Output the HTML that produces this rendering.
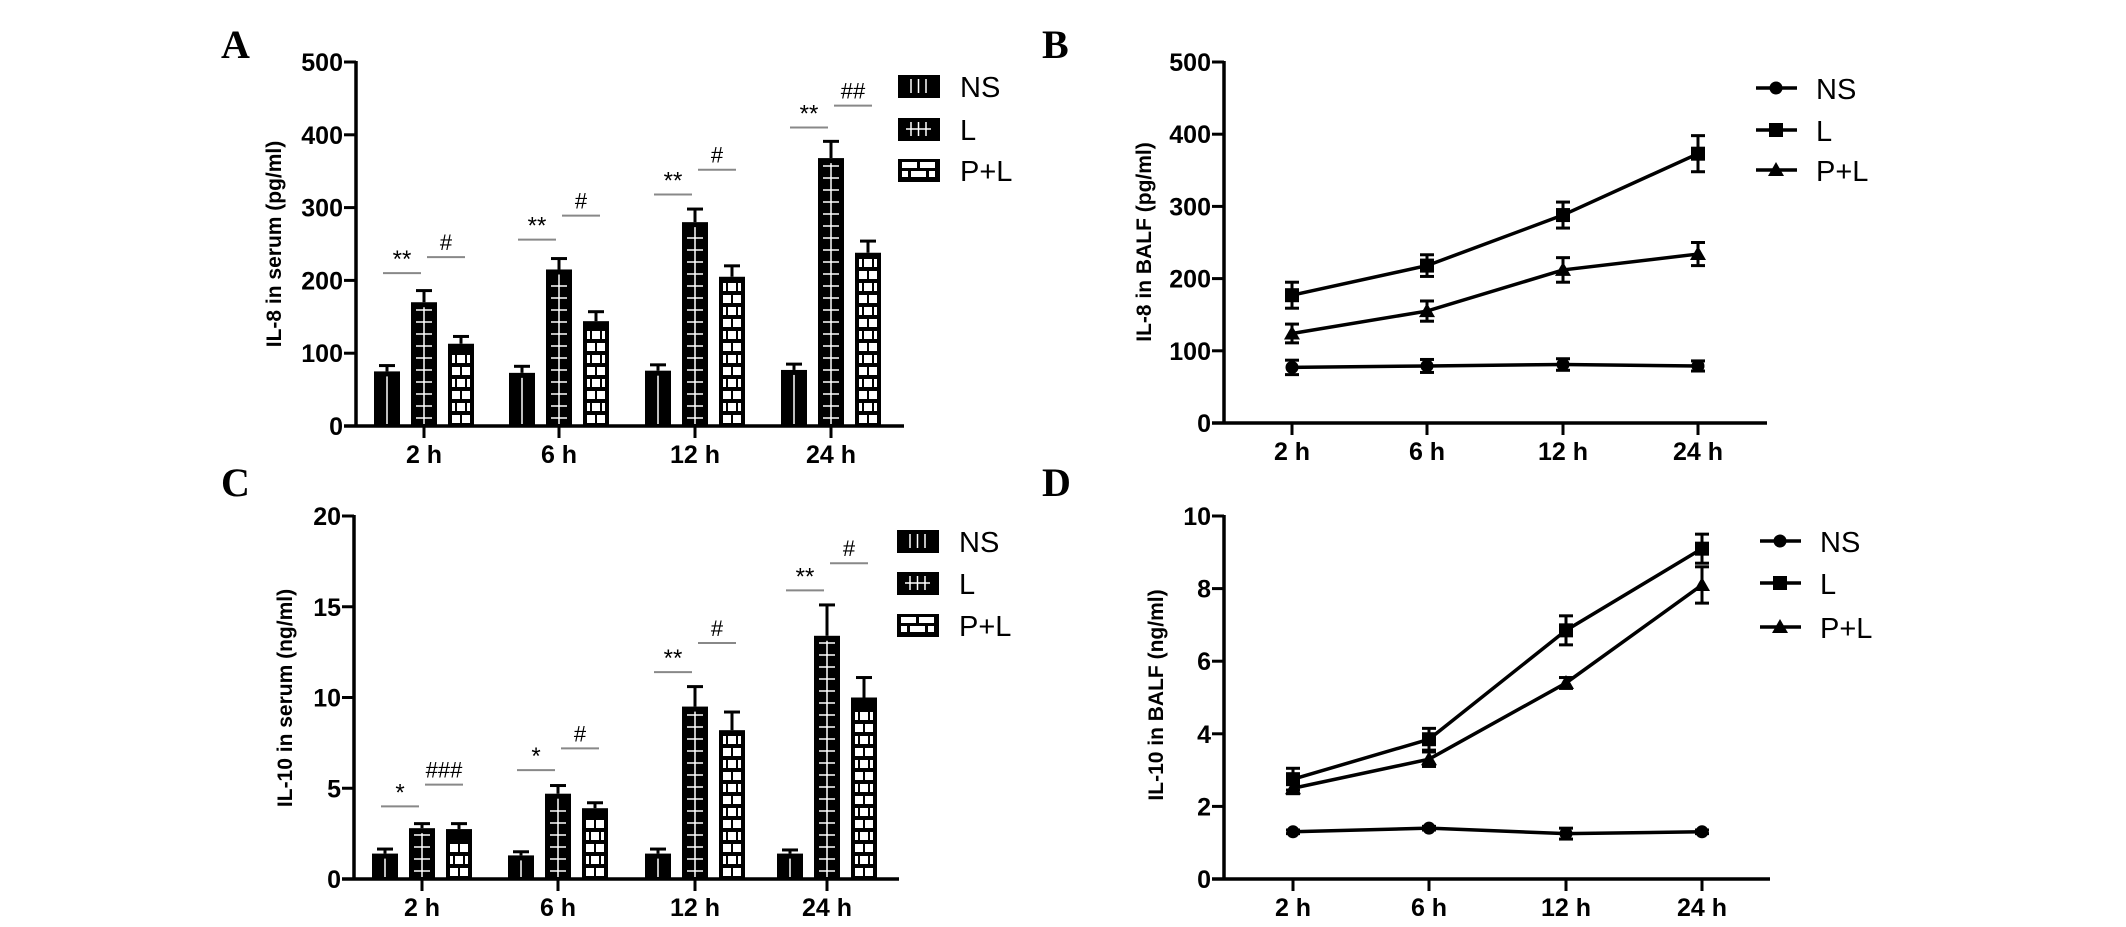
<!DOCTYPE html>
<html><head><meta charset="utf-8"><style>
html,body{margin:0;padding:0;background:#fff;}
svg{display:block;}
text{font-family:"Liberation Sans",sans-serif;}
</style></head><body>
<svg id="fig" width="2126" height="927" viewBox="0 0 2126 927" xmlns="http://www.w3.org/2000/svg"></svg>
<script>
const categories = ["2 h","6 h","12 h","24 h"];
const seriesNames = ["NS","L","P+L"];
// Panel A: IL-8 serum (pg/ml)
const aNS = [75,73,76,77], aNSerr = [8,9,8,8];
const aL = [170,215,280,368], aLerr = [16,15,18,23];
const aPL = [113,144,205,238], aPLerr = [10,13,15,16];
const aSig = [["**","#",210,232],["**","#",256,289],["**","#",318,352],["**","##",410,440]];
const aTicks = [0,100,200,300,400,500];
// Panel B: IL-8 BALF (pg/ml)
const bNS = [77,79,81,79], bNSerr = [10,9,8,7];
const bL = [177,218,288,373], bLerr = [18,15,18,25];
const bPL = [124,155,212,234], bPLerr = [13,14,17,16];
const bTicks = [0,100,200,300,400,500];
// Panel C: IL-10 serum (ng/ml)
const cNS = [1.4,1.3,1.4,1.4], cNSerr = [0.25,0.2,0.25,0.2];
const cL = [2.8,4.7,9.5,13.4], cLerr = [0.25,0.45,1.1,1.7];
const cPL = [2.75,3.9,8.2,10.0], cPLerr = [0.3,0.3,1.0,1.1];
const cSig = [["*","###",4.0,5.2],["*","#",6.0,7.2],["**","#",11.4,13.0],["**","#",15.9,17.4]];
const cTicks = [0,5,10,15,20];
// Panel D: IL-10 BALF (ng/ml)
const dNS = [1.3,1.4,1.25,1.3], dNSerr = [0.05,0.05,0.15,0.05];
const dL = [2.75,3.85,6.85,9.1], dLerr = [0.3,0.3,0.4,0.4];
const dPL = [2.5,3.3,5.4,8.1], dPLerr = [0.15,0.2,0.15,0.5];
const dTicks = [0,2,4,6,8,10];

const svg = document.getElementById('fig');
const NS = 'http://www.w3.org/2000/svg';
function mk(tag, attrs, parent){
  const e = document.createElementNS(NS, tag);
  for (const k in attrs) e.setAttribute(k, attrs[k]);
  (parent||svg).appendChild(e);
  return e;
}
function txt(s, x, y, size, opts, parent){
  const e = mk('text', Object.assign({x:x, y:y, 'font-size':size}, opts||{}), parent);
  e.textContent = s;
  return e;
}

function axes(g, p){
  const yS = v => p.y0 - (v/p.max)*(p.y0-p.yTop);
  const xS = i => p.cx[i];
  mk('line',{x1:p.ax,y1:p.yTop-1,x2:p.ax,y2:p.y0,stroke:'#000','stroke-width':3.5},g);
  mk('line',{x1:p.ax-12,y1:p.y0,x2:p.xEnd,y2:p.y0,stroke:'#000','stroke-width':3.5},g);
  p.ticks.forEach(t=>{
    const y = yS(t);
    const tl = mk('line',{x1:p.ax-12,y1:y,x2:p.ax,y2:y,stroke:'#000','stroke-width':3},g);
    
    
    const lb = txt(String(t), p.ax-13, y+9, 25, {'font-weight':'bold','text-anchor':'end'}, g);
    
    
  });
  categories.forEach((c,i)=>{
    const x = xS(i);
    const tl = mk('line',{x1:x,y1:p.y0,x2:x,y2:p.y0+12,stroke:'#000','stroke-width':3},g);
    
    
    const lb = txt(c, x, p.y0+37, 25, {'font-weight':'bold','text-anchor':'middle'}, g);
    
    
  });
  const tt = txt(p.title, 0, 0, 21, {'font-weight':'bold','text-anchor':'middle',transform:`translate(${p.titleX},${p.titleY}) rotate(-90)`}, g);
  
  
  const pl = txt(p.letter, p.letterX, p.letterY, 40, {'font-weight':'bold',style:'font-family:"Liberation Serif",serif'}, g);
  
  
  return {xS, yS};
}

function drawBar(g, type, x, w, y, y0){
  const h = y0 - y;
  const b = mk('g',{},g);
  
  
  mk('rect',{x:x,y:y,width:w,height:h,fill:'#000'},b);
  if (type==='NS'){
    mk('line',{x1:x+w/2,y1:y+5,x2:x+w/2,y2:y0-2,stroke:'#fff','stroke-width':1.5},b);
  } else if (type==='L'){
    mk('line',{x1:x+w/2,y1:y+5,x2:x+w/2,y2:y0-2,stroke:'#fff','stroke-width':1.5},b);
    for (let yy=y0-8; yy>y+6; yy-=12){
      mk('line',{x1:x+5,y1:yy,x2:x+w-5,y2:yy,stroke:'#fff','stroke-width':1.5},b);
    }
  } else {
    let r=0;
    for (let yy=y0-3; yy-8>y+3; yy-=12, r++){
      if (r%2===0){
        mk('rect',{x:x+4,y:yy-8,width:8,height:8,fill:'#fff'},b);
        mk('rect',{x:x+14,y:yy-8,width:8,height:8,fill:'#fff'},b);
      } else {
        mk('rect',{x:x+4,y:yy-8,width:3,height:8,fill:'#fff'},b);
        mk('rect',{x:x+9,y:yy-8,width:8,height:8,fill:'#fff'},b);
        mk('rect',{x:x+19,y:yy-8,width:3,height:8,fill:'#fff'},b);
      }
    }
  }
}
function errBar(g, x, yTop, yBase, cap){
  const e = mk('g',{},g);
  
  
  mk('line',{x1:x,y1:yTop,x2:x,y2:yBase,stroke:'#000','stroke-width':3},e);
  mk('line',{x1:x-cap,y1:yTop,x2:x+cap,y2:yTop,stroke:'#000','stroke-width':3},e);
  return e;
}
function legendBox(g, type, x, y){
  const b = mk('g',{},g);
  
  
  mk('rect',{x:x,y:y-11,width:42,height:23,fill:'#000'},b);
  if (type==='NS'||type==='L'){
    [x+13,x+20.5,x+28].forEach(xx=>mk('line',{x1:xx,y1:y-7,x2:xx,y2:y+7,stroke:'#fff','stroke-width':1.5},b));
    if (type==='L') mk('line',{x1:x+8,y1:y,x2:x+33,y2:y,stroke:'#fff','stroke-width':1.5},b);
  } else {
    mk('rect',{x:x+4,y:y-8,width:15,height:6,fill:'#fff'},b);
    mk('rect',{x:x+22,y:y-8,width:15,height:6,fill:'#fff'},b);
    mk('rect',{x:x+4,y:y+1,width:6,height:6,fill:'#fff'},b);
    mk('rect',{x:x+13,y:y+1,width:15,height:6,fill:'#fff'},b);
    mk('rect',{x:x+31,y:y+1,width:6,height:6,fill:'#fff'},b);
  }
}

function barPanel(p, vals, errs, sig){
  const g = mk('g',{});
  
  
  const {xS,yS} = axes(g,p);
  const offs = [-37,0,37], w=26;
  categories.forEach((c,i)=>{
    vals.forEach((s,k)=>{
      const cx = xS(i)+offs[k];
      errBar(g, cx, yS(s[i]+errs[k][i]), yS(s[i]), 8);
      drawBar(g, seriesNames[k], cx-w/2, w, yS(s[i]), p.y0);
    });
    const sg = sig[i];
    const s1 = mk('line',{x1:xS(i)-41,y1:yS(sg[2]),x2:xS(i)-3,y2:yS(sg[2]),stroke:'#888','stroke-width':2},g);
    
    
    const t1 = txt(sg[0], xS(i)-22, yS(sg[2])-6, 24, {'text-anchor':'middle'}, g);
    
    
    const s2 = mk('line',{x1:xS(i)+3,y1:yS(sg[3]),x2:xS(i)+41,y2:yS(sg[3]),stroke:'#888','stroke-width':2},g);
    
    
    const t2 = txt(sg[1], xS(i)+22, yS(sg[3])-7, 22, {'text-anchor':'middle'}, g);
    
    
  });
  seriesNames.forEach((n,k)=>{
    const y = p.legY[k];
    legendBox(g, n, p.legX, y);
    const lt = txt(n, p.legX+62, y+11, 29, {}, g);
    
    
  });
}
function marker(g, type, x, y){
  let m;
  if (type==='NS') m = mk('circle',{cx:x,cy:y,r:6.5,fill:'#000'},g);
  else if (type==='L') m = mk('rect',{x:x-7,y:y-7,width:14,height:14,fill:'#000'},g);
  else m = mk('polygon',{points:`${x},${y-8} ${x+8},${y+6} ${x-8},${y+6}`,fill:'#000'},g);
  
  
}
function linePanel(p, vals, errs){
  const g = mk('g',{});
  
  
  const {xS,yS} = axes(g,p);
  vals.forEach((s,k)=>{
    const pts = s.map((v,i)=>xS(i)+','+yS(v)).join(' ');
    const ln = mk('polyline',{points:pts,fill:'none',stroke:'#000','stroke-width':3.5},g);
    
    
    s.forEach((v,i)=>{
      const x = xS(i);
      const e = mk('g',{},g);
      
      
      const t = yS(v+errs[k][i]), b = yS(v-errs[k][i]);
      mk('line',{x1:x,y1:t,x2:x,y2:b,stroke:'#000','stroke-width':3},e);
      mk('line',{x1:x-7,y1:t,x2:x+7,y2:t,stroke:'#000','stroke-width':3},e);
      mk('line',{x1:x-7,y1:b,x2:x+7,y2:b,stroke:'#000','stroke-width':3},e);
      marker(g, seriesNames[k], x, yS(v));
    });
  });
  seriesNames.forEach((n,k)=>{
    const y = p.legY[k];
    const lg = mk('g',{},g);
    
    
    mk('line',{x1:p.legX,y1:y,x2:p.legX+41,y2:y,stroke:'#000','stroke-width':3.5},lg);
    marker(lg, n, p.legX+20, y);
    const lt = txt(n, p.legX+60, y+11, 29, {}, lg);
    
    
  });
}

barPanel({name:'panel-a',ax:356,yTop:62,y0:426,max:500,xEnd:904,cx:[424,559,695,831],ticks:aTicks,
  title:'IL-8 in serum (pg/ml)',titleX:281,titleY:244,letter:'A',letterX:221,letterY:58,legX:898,legY:[86,129,170]},
  [aNS,aL,aPL],[aNSerr,aLerr,aPLerr],aSig);
linePanel({name:'panel-b',ax:1224,yTop:62,y0:423,max:500,xEnd:1767,cx:[1292,1427,1563,1698],ticks:bTicks,
  title:'IL-8 in BALF (pg/ml)',titleX:1151,titleY:242,letter:'B',letterX:1042,letterY:58,legX:1756,legY:[88,130,170]},
  [bNS,bL,bPL],[bNSerr,bLerr,bPLerr]);
barPanel({name:'panel-c',ax:354,yTop:516,y0:879,max:20,xEnd:899,cx:[422,558,695,827],ticks:cTicks,
  title:'IL-10  in serum (ng/ml)',titleX:292,titleY:698,letter:'C',letterX:221,letterY:496,legX:897,legY:[541,583,625]},
  [cNS,cL,cPL],[cNSerr,cLerr,cPLerr],cSig);
linePanel({name:'panel-d',ax:1224,yTop:516,y0:879,max:10,xEnd:1770,cx:[1293,1429,1566,1702],ticks:dTicks,
  title:'IL-10 in BALF (ng/ml)',titleX:1163,titleY:695,letter:'D',letterX:1042,letterY:496,legX:1760,legY:[541,583,627]},
  [dNS,dL,dPL],[dNSerr,dLerr,dPLerr]);
</script>
</body></html>
